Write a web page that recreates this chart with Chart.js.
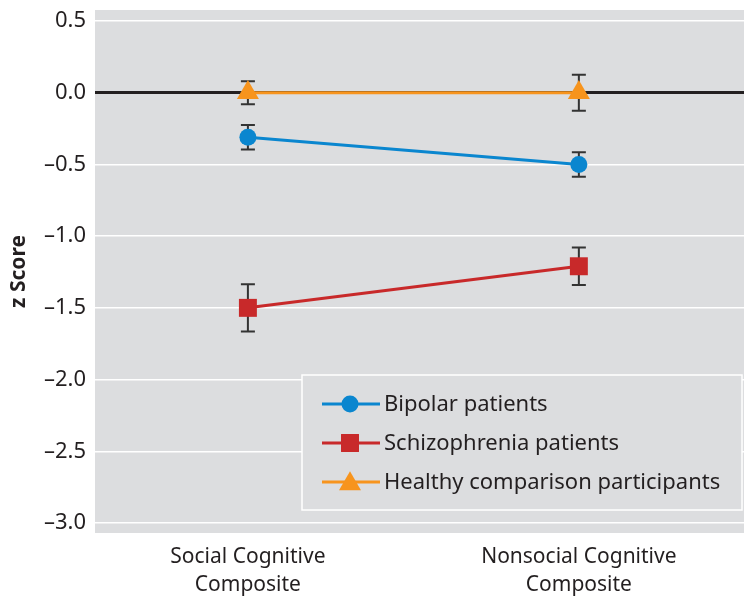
<!DOCTYPE html>
<html>
<head>
<meta charset="utf-8">
<script src="https://cdn.jsdelivr.net/npm/chart.js@4"></script>
<style>
  html, body { margin: 0; padding: 0; background: #fff; }
  #wrap { width: 744px; height: 598px; }
</style>
</head>
<body>
<div id="wrap"><canvas id="zChart" width="744" height="598"></canvas></div>
<script>
// chart data
const categories = [['Social Cognitive', 'Composite'], ['Nonsocial Cognitive', 'Composite']];
const xPos = [0, 1];
const yTicks = [0.5, 0, -0.5, -1.0, -1.5, -2.0, -2.5, -3.0];

const seriesNames = ['Bipolar patients', 'Schizophrenia patients', 'Healthy comparison participants'];
const bipolar = [-0.31, -0.50];
const bipolarErr = [0.085, 0.085];
const schizophrenia = [-1.50, -1.21];
const schizophreniaErr = [0.165, 0.13];
const healthy = [0.0, 0.0];
const healthyErr = [0.08, 0.125];

const FONT = '"Noto Sans", "DejaVu Sans", sans-serif';
const TEXT = '#231f20';
const PANEL = '#dcdddf';

function toPoints(vals) {
    return vals.map((v, i) => ({ x: xPos[i], y: v }));
}

const errors = [bipolarErr, schizophreniaErr, healthyErr];

// gray plot background
const panelBg = {
    id: 'panelBg',
    beforeDraw(chart) {
        const { ctx, chartArea: a } = chart;
        ctx.save();
        ctx.fillStyle = PANEL;
        ctx.fillRect(a.left, a.top, a.right - a.left, a.bottom - a.top);
        ctx.restore();
    }
};

// error bars, drawn under the markers
const errorBars = {
    id: 'errorBars',
    beforeDatasetsDraw(chart) {
        const { ctx } = chart;
        const xs = chart.scales.x, ys = chart.scales.y;
        ctx.save();
        ctx.strokeStyle = '#333';
        ctx.lineWidth = 2;
        chart.data.datasets.forEach((ds, d) => {
            ds.data.forEach((p, i) => {
                const x = xs.getPixelForValue(p.x);
                const top = ys.getPixelForValue(p.y + errors[d][i]);
                const bot = ys.getPixelForValue(p.y - errors[d][i]);
                ctx.beginPath();
                ctx.moveTo(x, top); ctx.lineTo(x, bot);
                ctx.moveTo(x - 7, top); ctx.lineTo(x + 7, top);
                ctx.moveTo(x - 7, bot); ctx.lineTo(x + 7, bot);
                ctx.stroke();
            });
        });
        ctx.restore();
    }
};

// boxed legend in the lower right
const boxLegend = {
    id: 'boxLegend',
    afterDraw(chart) {
        const { ctx, chartArea: a } = chart;
        const left = a.right - 442, top = a.bottom - 158, w = 440, h = 135;
        ctx.save();
        ctx.fillStyle = PANEL;
        ctx.fillRect(left, top, w, h);
        ctx.strokeStyle = '#fff';
        ctx.lineWidth = 1.5;
        ctx.strokeRect(left, top, w, h);
        chart.data.datasets.forEach((ds, i) => {
            const y = top + 29 + i * 39;
            ctx.strokeStyle = ds.borderColor;
            ctx.lineWidth = 3;
            ctx.beginPath();
            ctx.moveTo(left + 20, y);
            ctx.lineTo(left + 78, y);
            ctx.stroke();
            ctx.fillStyle = ds.backgroundColor;
            Chart.helpers.drawPoint(ctx, {
                pointStyle: ds.pointStyle, radius: ds.pointRadius, borderWidth: 0, rotation: 0
            }, left + 48, y + (ds.pointStyle === 'triangle' ? 2 : 0));
            ctx.fillStyle = TEXT;
            ctx.font = '22px ' + FONT;
            ctx.textBaseline = 'middle';
            ctx.fillText(ds.label, left + 82, y + 1);
        });
        ctx.restore();
    }
};

new Chart(document.getElementById('zChart'), {
    type: 'line',
    data: {
        datasets: [
            {
                label: seriesNames[0], data: toPoints(bipolar),
                borderColor: '#0a86cf', backgroundColor: '#0a86cf',
                pointStyle: 'circle', pointRadius: 8.5, borderWidth: 3, pointBorderWidth: 0
            },
            {
                label: seriesNames[1], data: toPoints(schizophrenia),
                borderColor: '#c8292a', backgroundColor: '#c8292a',
                pointStyle: 'rect', pointRadius: 12.7, borderWidth: 3, pointBorderWidth: 0
            },
            {
                label: seriesNames[2], data: toPoints(healthy),
                borderColor: '#f7941d', backgroundColor: '#f7941d',
                pointStyle: 'triangle', pointRadius: 12.7, borderWidth: 3, pointBorderWidth: 0
            }
        ]
    },
    options: {
        responsive: false,
        animation: false,
        layout: { autoPadding: false, padding: { top: 10, right: 0, left: 0, bottom: 0 } },
        plugins: {
            legend: { display: false },
            tooltip: { enabled: false }
        },
        scales: {
            x: {
                type: 'linear',
                min: -0.462, max: 1.499,
                afterBuildTicks: s => { s.ticks = xPos.map(v => ({ value: v })); },
                afterFit: s => { s.height = 65; s.paddingLeft = 0; s.paddingRight = 0; },
                grid: { display: false, drawTicks: false },
                border: { display: false },
                ticks: {
                    padding: 10,
                    color: TEXT,
                    font: { family: FONT, size: 21, lineHeight: 1.33 },
                    maxRotation: 0,
                    callback: (v) => categories[xPos.indexOf(v)]
                }
            },
            y: {
                min: -3.07, max: 0.577,
                afterBuildTicks: s => { s.ticks = yTicks.map(v => ({ value: v })); },
                afterFit: s => { s.width = 95; s.paddingTop = 0; s.paddingBottom = 0; },
                grid: {
                    drawTicks: false,
                    color: c => c.tick && c.tick.value === 0 ? TEXT : '#ffffff',
                    lineWidth: c => c.tick && c.tick.value === 0 ? 3 : 1.5
                },
                border: { display: false },
                ticks: {
                    padding: 9,
                    color: TEXT,
                    font: { family: FONT, size: 22 },
                    callback: v => (v < 0 ? '\u2013' : '') + Math.abs(v).toFixed(1)
                },
                title: {
                    display: true,
                    text: 'z Score',
                    color: TEXT,
                    padding: { top: 6, bottom: 0 },
                    font: { family: FONT, size: 21, weight: 'bold' }
                }
            }
        }
    },
    plugins: [panelBg, errorBars, boxLegend]
});
</script>
</body>
</html>
